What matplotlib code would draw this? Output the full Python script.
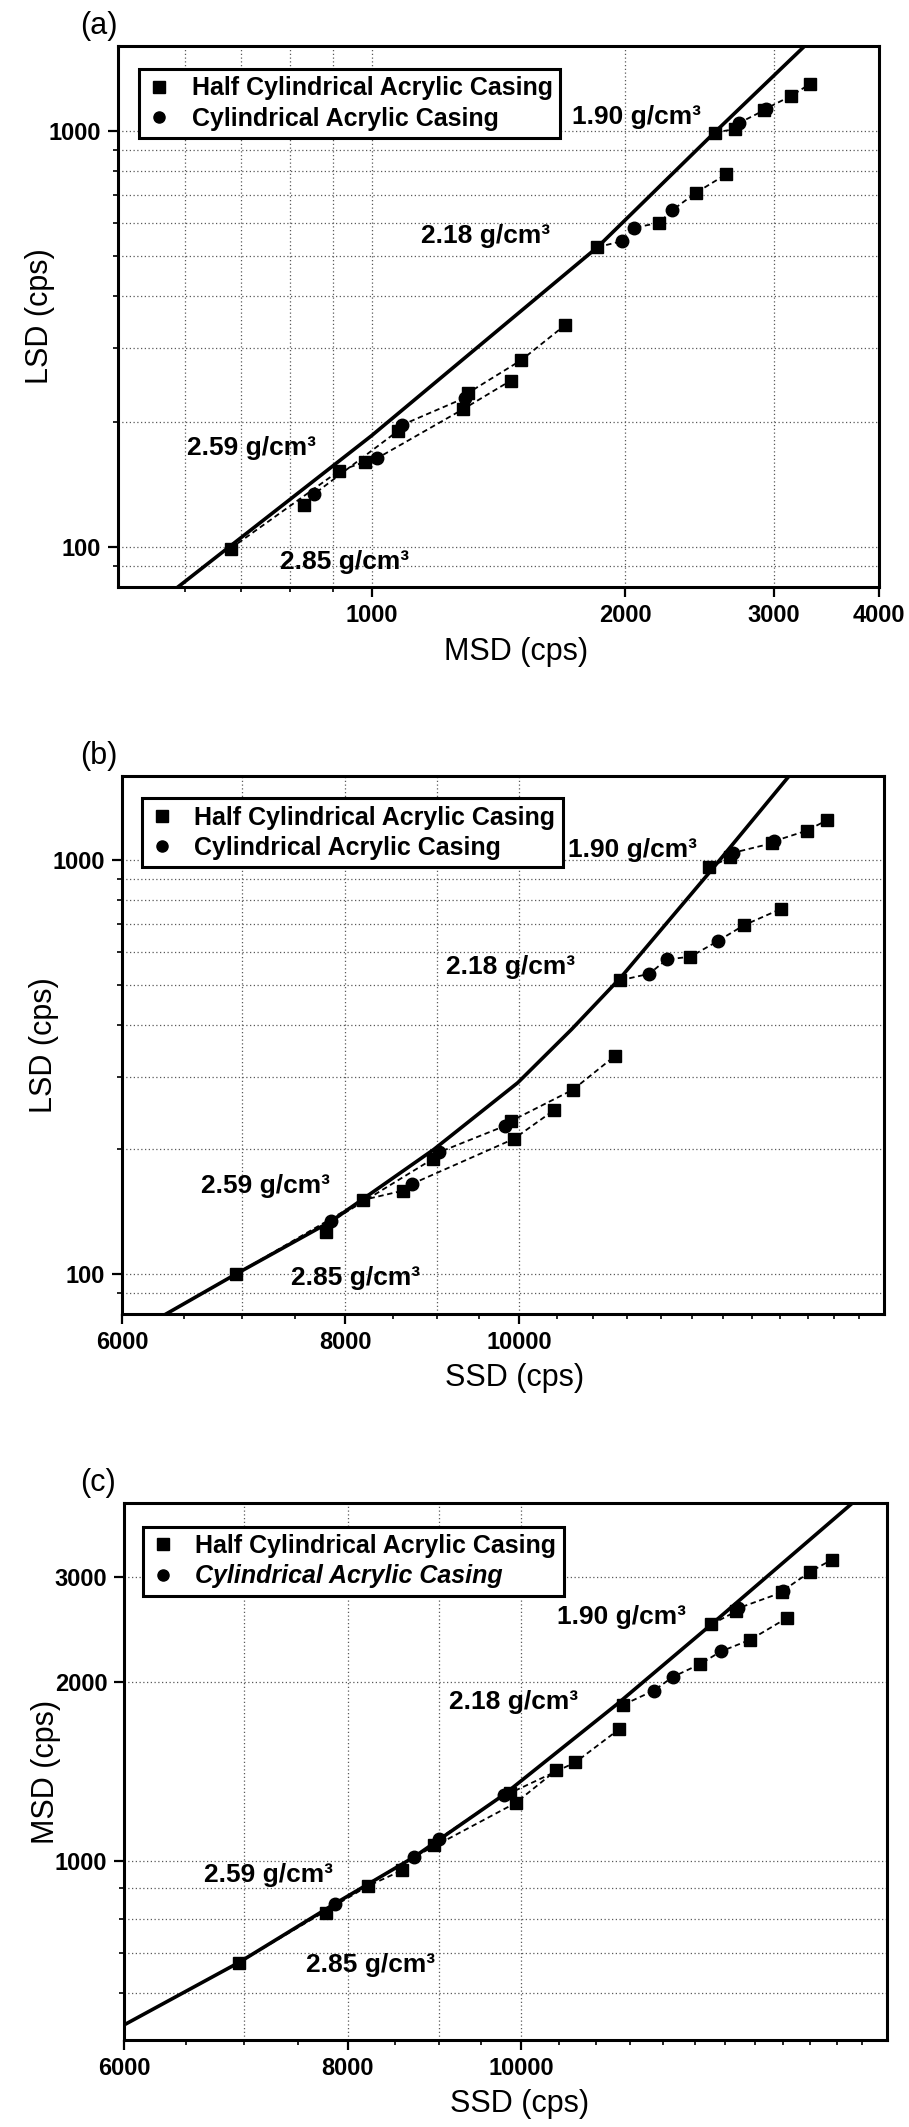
import matplotlib.pyplot as plt
from matplotlib.lines import Line2D
from matplotlib.ticker import FixedLocator, FixedFormatter, NullFormatter

plt.rcParams["font.family"] = ["Liberation Sans", "DejaVu Sans"]
plt.rcParams["font.weight"] = "bold"

W, H = 909, 2127

densities = ["1.90", "2.18", "2.59", "2.85"]
legend_labels = ["Half Cylindrical Acrylic Casing", "Cylindrical Acrylic Casing"]

# (a) MSD vs LSD ; kind: s = half cylindrical casing, c = cylindrical casing
a_msd = [2552, 2700, 2730, 2920, 2935, 3147, 3311,
         1853, 1980, 2049, 2194, 2272, 2426, 2634,
         831, 855, 1075, 1085, 1290, 1300, 1505, 1696,
         680, 914, 982, 1014, 1283, 1463]
a_lsd = [991, 1010, 1045, 1120, 1130, 1214, 1296,
         525, 543, 585, 601, 644, 710, 786,
         126, 134, 190, 196, 228, 234, 281, 341,
         99, 152, 160, 163, 214, 251]

# (b) SSD vs LSD
b_ssd = [12772, 13130, 13170, 13850, 13880, 14484, 14862,
         11397, 11828, 12097, 12472, 12917, 13360, 14020,
         7804, 7852, 8957, 9027, 9822, 9895, 10722, 11311,
         6950, 8186, 8616, 8713, 9933, 10465]
b_lsd = [962, 1017, 1043, 1100, 1112, 1180, 1250,
         513, 532, 576, 585, 638, 697, 764,
         126, 134, 190, 197, 228, 234, 279, 336,
         100, 151, 159, 165, 212, 249]

# (c) SSD vs MSD
c_ssd = [12765, 13180, 13209, 13980, 14000, 14495, 14901,
         11402, 11854, 12153, 12577, 12923, 13422, 14068,
         7782, 7870, 8940, 8994, 9778, 9850, 10718, 11342,
         6955, 8206, 8582, 8709, 9926, 10458]
c_msd = [2499, 2630, 2660, 2830, 2850, 3064, 3211,
         1832, 1934, 2041, 2142, 2251, 2356, 2562,
         819, 848, 1065, 1090, 1293, 1300, 1465, 1667,
         675, 907, 965, 1015, 1252, 1421]

kind = ["s", "s", "c", "s", "c", "s", "s",
        "s", "c", "c", "s", "c", "s", "s",
        "s", "c", "s", "c", "c", "s", "s", "s",
        "s", "s", "s", "c", "s", "s"]
group = [0] * 7 + [1] * 7 + [2] * 8 + [3] * 6

# solid reference curves
a_curve_x = [589, 678, 1000, 1853, 2552, 3265]
a_curve_y = [80, 100, 185, 525, 991, 1600]
b_curve_x = [6350, 6950, 7852, 8963, 9986, 10700, 11397, 12772, 14160]
b_curve_y = [80, 100, 134, 200, 290, 390, 520, 932, 1600]
c_curve_x = [6000, 6955, 7870, 8709, 9778, 11300, 12765, 15306]
c_curve_y = [530, 675, 848, 1015, 1293, 1832, 2499, 4000]

panels = [
    dict(tag="(a)", x=a_msd, y=a_lsd, cx=a_curve_x, cy=a_curve_y,
         rect=(118, 46, 879, 587), xlim=(500, 4000), ylim=(80, 1600),
         xmaj=[1000, 2000, 3000, 4000], ymaj=[100, 1000],
         xmin=[600, 700, 800, 900], ymin=[90] + list(range(200, 1000, 100)),
         xgrid=[600, 700, 800, 900, 1000, 2000, 3000],
         ygrid=[90, 100] + list(range(200, 1001, 100)),
         xlabel="MSD (cps)", ylabel="LSD (cps)", xlab_x=0.523,
         notes=[(1730, 1080), (1144, 558), (604, 173), (779, 92)],
         leg=(0.0276, 0.9575), italic=False),
    dict(tag="(b)", x=b_ssd, y=b_lsd, cx=b_curve_x, cy=b_curve_y,
         rect=(122, 776, 884, 1314), xlim=(6000, 16000), ylim=(80, 1600),
         xmaj=[6000, 8000, 10000], ymaj=[100, 1000],
         xmin=list(range(6500, 16000, 500)), ymin=[90] + list(range(200, 1000, 100)),
         xgrid=[7000, 8000, 9000, 10000],
         ygrid=[90, 100] + list(range(200, 1001, 100)),
         xlabel="SSD (cps)", ylabel="LSD (cps)", xlab_x=0.515,
         notes=[(10650, 1061), (9100, 553), (6642, 163), (7458, 98)],
         leg=(0.0259, 0.959), italic=False),
    dict(tag="(c)", x=c_ssd, y=c_msd, cx=c_curve_x, cy=c_curve_y,
         rect=(124, 1503, 887, 2040), xlim=(6000, 16000), ylim=(500, 4000),
         xmaj=[6000, 8000, 10000], ymaj=[1000, 2000, 3000],
         xmin=list(range(6500, 16000, 500)), ymin=[600, 700, 800, 900],
         xgrid=[7000, 8000, 9000, 10000],
         ygrid=[600, 700, 800, 900, 1000, 2000, 3000],
         xlabel="SSD (cps)", ylabel="MSD (cps)", xlab_x=0.518,
         notes=[(10462, 2576), (9110, 1852), (6648, 946), (7578, 668)],
         leg=(0.0249, 0.956), italic=True),
]

fig = plt.figure(figsize=(W / 100, H / 100), dpi=100)

for p in panels:
    l, t, r, b = p["rect"]
    ax = fig.add_axes([l / W, 1 - b / H, (r - l) / W, (b - t) / H])
    ax.set_xscale("log")
    ax.set_yscale("log")
    ax.set_xlim(*p["xlim"])
    ax.set_ylim(*p["ylim"])

    for gx in p["xgrid"]:
        ax.axvline(gx, color="0.35", lw=0.9, ls=(0, (1, 2)), zorder=0)
    for gy in p["ygrid"]:
        ax.axhline(gy, color="0.35", lw=0.9, ls=(0, (1, 2)), zorder=0)

    ax.plot(p["cx"], p["cy"], "-", color="black", lw=2.6, zorder=3)

    for g in range(4):
        idx = [i for i in range(len(group)) if group[i] == g]
        idx.sort(key=lambda i: p["x"][i])
        ax.plot([p["x"][i] for i in idx], [p["y"][i] for i in idx],
                color="black", lw=1.3, ls=(0, (3, 2)), zorder=2)
    for k, m in (("s", "s"), ("c", "o")):
        xs = [p["x"][i] for i in range(len(kind)) if kind[i] == k]
        ys = [p["y"][i] for i in range(len(kind)) if kind[i] == k]
        ax.plot(xs, ys, ls="none", marker=m, ms=9, color="black", zorder=4)

    for d, (nx, ny) in zip(densities, p["notes"]):
        ax.text(nx, ny, d + " g/cm\u00b3", fontsize=19, ha="left", va="center")

    ax.xaxis.set_major_locator(FixedLocator(p["xmaj"]))
    ax.xaxis.set_major_formatter(FixedFormatter([str(v) for v in p["xmaj"]]))
    ax.xaxis.set_minor_locator(FixedLocator(p["xmin"]))
    ax.xaxis.set_minor_formatter(NullFormatter())
    ax.yaxis.set_major_locator(FixedLocator(p["ymaj"]))
    ax.yaxis.set_major_formatter(FixedFormatter([str(v) for v in p["ymaj"]]))
    ax.yaxis.set_minor_locator(FixedLocator(p["ymin"]))
    ax.yaxis.set_minor_formatter(NullFormatter())
    ax.tick_params(which="major", direction="out", length=7, width=1.6,
                   labelsize=17, pad=5)
    ax.tick_params(which="minor", direction="out", length=3.5, width=1.2)
    for s in ax.spines.values():
        s.set_linewidth(2.2)

    ax.set_xlabel(p["xlabel"], fontsize=22, fontweight="normal")
    ax.set_ylabel(p["ylabel"], fontsize=22, fontweight="normal")
    ax.xaxis.set_label_coords(p["xlab_x"], -0.092)
    ax.yaxis.set_label_coords(-0.083, 0.5)

    handles = [Line2D([], [], ls="none", marker="s", ms=8, color="black"),
               Line2D([], [], ls="none", marker="o", ms=8, color="black")]
    leg = ax.legend(handles, legend_labels, loc="upper left",
                    bbox_to_anchor=p["leg"], borderaxespad=0, fontsize=18,
                    frameon=True, fancybox=False, framealpha=1,
                    edgecolor="black", borderpad=0.3, labelspacing=0.25,
                    handlelength=1.0, handletextpad=0.8)
    leg.get_frame().set_linewidth(2.2)
    if p["italic"]:
        leg.get_texts()[1].set_fontstyle("italic")

    fig.text(80 / W, 1 - (t - 20) / H, p["tag"], fontsize=22,
             fontweight="normal", ha="left", va="center")

fig.savefig("out.png", dpi=100)
